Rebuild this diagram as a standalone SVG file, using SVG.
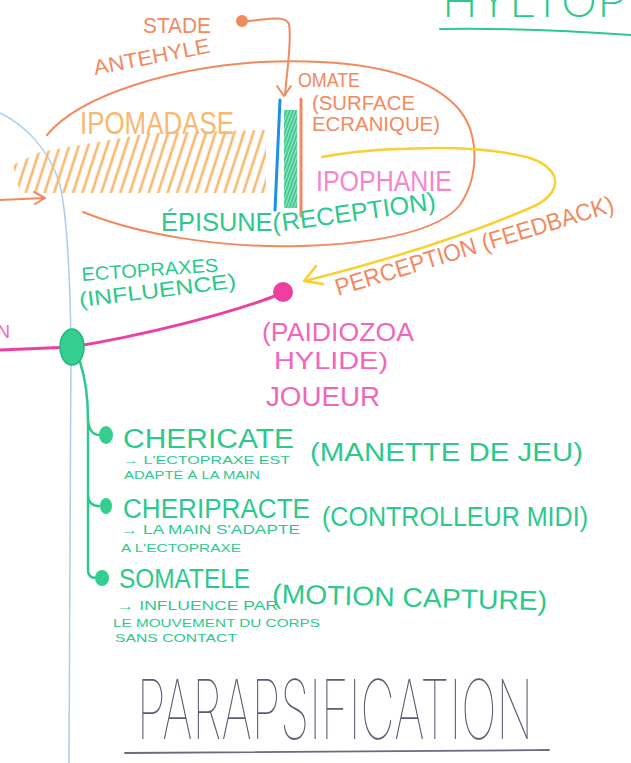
<svg xmlns="http://www.w3.org/2000/svg" width="631" height="763" viewBox="0 0 631 763">
<style>
text{font-family:"Liberation Sans","DejaVu Sans",sans-serif;}
.or{fill:#f28a60;}
.lo{fill:#f9b870;}
.pk{fill:#f166bd;}
.gr{fill:#2cc98d;}
.tl{fill:#5c5c72;}
.ln{fill:none;stroke-linecap:round;stroke-linejoin:round;}
</style>
<defs>
<pattern id="hatch" width="9" height="10" patternUnits="userSpaceOnUse" patternTransform="rotate(18)">
<line x1="3" y1="0" x2="3" y2="10" stroke="#f9b870" stroke-width="2.6"/>
</pattern>
<pattern id="ghatch" width="3" height="4" patternUnits="userSpaceOnUse" patternTransform="rotate(20)">
<line x1="1" y1="0" x2="1" y2="4" stroke="#1fbf7e" stroke-width="1.4"/>
</pattern>
</defs>
<rect width="631" height="763" fill="#ffffff"/>

<g id="divider">
<path class="ln" d="M0,113 C25,125 50,150 60,185 C68,220 70,280 71,340 L69,763" stroke="#aecbee" stroke-width="1.5"/>
</g>

<g id="top-right-title">
<text x="442" y="17" font-size="44" class="gr" style="font-family:Inter,'Liberation Sans',sans-serif;font-weight:200" textLength="185" lengthAdjust="spacingAndGlyphs">HYLTOP</text>
<path class="ln" d="M440,29 C500,28 560,30 631,35" stroke="#2cc98d" stroke-width="2"/>
</g>

<g id="ipomadase-ellipse">
<path class="ln" d="M47,135 C80,95 170,68 260,62 C350,58 420,70 455,105 C480,130 480,175 460,205 C440,230 380,244 300,246 C220,248 140,235 83,212" stroke="#f28a60" stroke-width="2"/>
<polygon points="13,165 40,152 150,133 266,130 266,193 20,193" fill="url(#hatch)"/>
<text x="80" y="134" font-size="32" class="lo" textLength="154" lengthAdjust="spacingAndGlyphs">IPOMADASE</text>
</g>

<g id="omate">
<line class="ln" x1="280" y1="100" x2="275" y2="210" stroke="#1a90e8" stroke-width="3"/>
<rect x="284" y="110" width="13" height="98" fill="#9fe6c4"/>
<rect x="284" y="110" width="13" height="98" fill="url(#ghatch)"/>
<line class="ln" x1="301" y1="99" x2="301" y2="216" stroke="#f28a60" stroke-width="3"/>
<text x="298" y="87" font-size="20" class="or" textLength="62" lengthAdjust="spacingAndGlyphs">OMATE</text>
<text x="312" y="110" font-size="21" class="or" textLength="103" lengthAdjust="spacingAndGlyphs">(SURFACE</text>
<text x="312" y="131" font-size="20" class="or" textLength="128" lengthAdjust="spacingAndGlyphs">ECRANIQUE)</text>
</g>

<g id="stade-antehyle">
<circle cx="242" cy="21" r="6" fill="#f28a60"/>
<text x="143" y="33" font-size="22" class="or" textLength="68" lengthAdjust="spacingAndGlyphs">STADE</text>
<text x="95" y="75" font-size="21" class="or" textLength="118" lengthAdjust="spacingAndGlyphs" transform="rotate(-11 95 75)">ANTEHYLE</text>
</g>

<g id="ipophanie">
<text x="316" y="191" font-size="30" fill="#f585cf" textLength="136" lengthAdjust="spacingAndGlyphs">IPOPHANIE</text>
</g>

<g id="episune">
<text x="161" y="231" font-size="25" class="gr" textLength="120" lengthAdjust="spacingAndGlyphs">ÉPISUNE(</text>
<text x="283" y="231" font-size="25" class="gr" textLength="155" lengthAdjust="spacingAndGlyphs" transform="rotate(-8 283 231)">RECEPTION)</text>
</g>

<g id="perception">
<text x="338" y="296" font-size="24" class="or" textLength="290" lengthAdjust="spacingAndGlyphs" transform="rotate(-17 338 296)">PERCEPTION (FEEDBACK)</text>
</g>

<g id="ectopraxes">
<text x="82" y="281" font-size="19" class="gr" textLength="137" lengthAdjust="spacingAndGlyphs" transform="rotate(-4 82 281)">ECTOPRAXES</text>
<text x="80" y="307" font-size="21" class="gr" textLength="158" lengthAdjust="spacingAndGlyphs" transform="rotate(-7 80 307)">(INFLUENCE)</text>
</g>

<g id="connectors">
<path class="ln" d="M248,21 C270,19 285,15 289,24 C292,40 287,70 285,95" stroke="#f28a60" stroke-width="2"/>
<path class="ln" d="M277,86 L284,96 L291,86" stroke="#f28a60" stroke-width="2"/>
<path class="ln" d="M322,157 C380,146 480,144 530,158 C565,170 562,195 530,208 C460,238 380,262 305,281" stroke="#f8d030" stroke-width="2.5"/>
<path class="ln" d="M316,266 L304,281 L323,284" stroke="#f8d030" stroke-width="2.5"/>
<path class="ln" d="M0,200 L45,198 M34,192 L45,198 L35,204" stroke="#f28a60" stroke-width="2"/>
<path class="ln" d="M0,350 L72,347 C140,336 230,314 280,294" stroke="#ee3fa0" stroke-width="3"/>
<path class="ln" d="M80,362 C86,380 88,400 88,420 L88,570 C88,575 90,578 96,578 M88,420 C89,432 95,435 100,435 M88,495 C88,503 93,506 99,506" stroke="#2cc98d" stroke-width="2.5"/>
</g>

<g id="left-n">
<text x="-3" y="338" font-size="18" class="pk">N</text>
</g>

<g id="hub">
<ellipse cx="72" cy="347" rx="12" ry="18" fill="#34cf90" stroke="#22b87c" stroke-width="1.5"/>
</g>

<g id="joueur">
<circle cx="283" cy="292" r="10" fill="#ee3fa0"/>
<text x="262" y="341" font-size="26" class="pk" textLength="152" lengthAdjust="spacingAndGlyphs">(PAIDIOZOA</text>
<text x="274" y="369" font-size="24" class="pk" textLength="114" lengthAdjust="spacingAndGlyphs">HYLIDE)</text>
<text x="266" y="406" font-size="27" class="pk" textLength="114" lengthAdjust="spacingAndGlyphs">JOUEUR</text>
</g>

<g id="chericate">
<ellipse cx="106" cy="435" rx="7" ry="9" fill="#34cf90"/>
<text x="123" y="448" font-size="27" class="gr" textLength="171" lengthAdjust="spacingAndGlyphs">CHERICATE</text>
<text x="310" y="461" font-size="26" class="gr" textLength="273" lengthAdjust="spacingAndGlyphs">(MANETTE DE JEU)</text>
<text x="123" y="464" font-size="11" class="gr" textLength="167" lengthAdjust="spacingAndGlyphs">→ L'ECTOPRAXE EST</text>
<text x="124" y="479" font-size="11" class="gr" textLength="136" lengthAdjust="spacingAndGlyphs">ADAPTÉ À LA MAIN</text>
</g>

<g id="cheripracte">
<ellipse cx="106" cy="506" rx="6" ry="8" fill="#34cf90"/>
<text x="123" y="518" font-size="27" class="gr" textLength="187" lengthAdjust="spacingAndGlyphs">CHERIPRACTE</text>
<text x="322" y="526" font-size="27" class="gr" textLength="266" lengthAdjust="spacingAndGlyphs">(CONTROLLEUR MIDI)</text>
<text x="121" y="534" font-size="12" class="gr" textLength="179" lengthAdjust="spacingAndGlyphs">→ LA MAIN S'ADAPTE</text>
<text x="121" y="552" font-size="11" class="gr" textLength="120" lengthAdjust="spacingAndGlyphs">A L'ECTOPRAXE</text>
</g>

<g id="somatele">
<ellipse cx="102" cy="578" rx="7" ry="8" fill="#34cf90"/>
<text x="119" y="588" font-size="27" class="gr" textLength="131" lengthAdjust="spacingAndGlyphs">SOMATELE</text>
<text x="272" y="603" font-size="27" class="gr" textLength="275" lengthAdjust="spacingAndGlyphs" transform="rotate(1.5 272 603)">(MOTION CAPTURE)</text>
<text x="117" y="610" font-size="12" class="gr" textLength="161" lengthAdjust="spacingAndGlyphs">→ INFLUENCE PAR</text>
<text x="113" y="627" font-size="11" class="gr" textLength="207" lengthAdjust="spacingAndGlyphs">LE MOUVEMENT DU CORPS</text>
<text x="115" y="642" font-size="11" class="gr" textLength="122" lengthAdjust="spacingAndGlyphs">SANS CONTACT</text>
</g>

<g id="title">
<text x="137" y="739" font-size="82" class="tl" style="font-family:Inter,'Liberation Sans',sans-serif;font-weight:100" textLength="396" lengthAdjust="spacingAndGlyphs">PARAPSIFICATION</text>
<path class="ln" d="M125,753 C250,751 400,752 549,750" stroke="#6a6a80" stroke-width="1.8"/>
</g>
</svg>
